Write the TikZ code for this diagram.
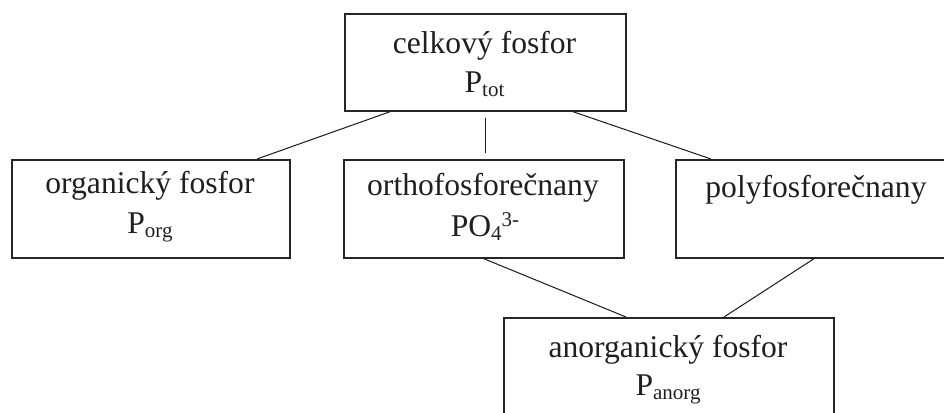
\documentclass[tikz,border=0pt]{standalone}
\usepackage{fontspec}
\setmainfont{Liberation Serif}
\usetikzlibrary{calc}
\newcommand{\mysub}[1]{\raisebox{-4.5pt}{\fontsize{21}{21}\selectfont #1}}
\newcommand{\mysup}[1]{\raisebox{10pt}{\fontsize{21}{21}\selectfont #1}}
\tikzset{
  box/.style={draw=black!85, line width=1.7pt, rectangle, inner sep=0pt, anchor=north west},
  lbl/.style={anchor=base, inner sep=0pt, font=\fontsize{31.6}{38}\selectfont, text=black!88},
  conn/.style={draw=black!90, line width=1pt}
}
\begin{document}
\begin{tikzpicture}[x=1pt,y=1pt]
\useasboundingbox (0,0) rectangle (944,-412);
\clip (0,0) rectangle (944,-412);
% boxes
\node[box, minimum width=281pt, minimum height=97pt] (top) at (344,-13) {};
\node[box, minimum width=278pt, minimum height=98pt] (org) at (11,-159) {};
\node[box, minimum width=280pt, minimum height=98pt] (orto) at (343,-159) {};
\node[box, minimum width=282pt, minimum height=98pt] (poly) at (675,-159) {};
\node[box, minimum width=330pt, minimum height=98pt] (anorg) at (503,-317) {};
% texts
\node[lbl] (t1) at (484.5,-53) {celkový fosfor};
\node[lbl] (t2) at (484.5,-92) {P\mysub{tot}};
\node[lbl] (o1) at (150,-193) {organický fosfor};
\node[lbl] (o2) at (150,-233) {P\mysub{org}};
\node[lbl] (m1) at (483,-195) {orthofosforečnany};
\node[lbl] (m2) at (485,-236) {PO\mysub{4}\mysup{3-}};
\node[lbl] (p1) at (816,-197) {polyfosforečnany};
\node[lbl] (a1) at (668,-357) {anorganický fosfor};
\node[lbl] (a2) at (668,-395) {P\mysub{anorg}};
% connectors
\draw[conn] ([xshift=46pt]top.south west) -- ([xshift=246pt]org.north west);
\draw[conn, shorten <=6pt, shorten >=6pt] (top.south) -- (orto.north -| top.south);
\draw[conn] ([xshift=229pt]top.south west) -- ([xshift=36pt]poly.north west);
\draw[conn] (orto.south) -- ([xshift=123pt]anorg.north west);
\draw[conn] ([xshift=139pt]poly.south west) -- ([xshift=221pt]anorg.north west);
\end{tikzpicture}
\end{document}
